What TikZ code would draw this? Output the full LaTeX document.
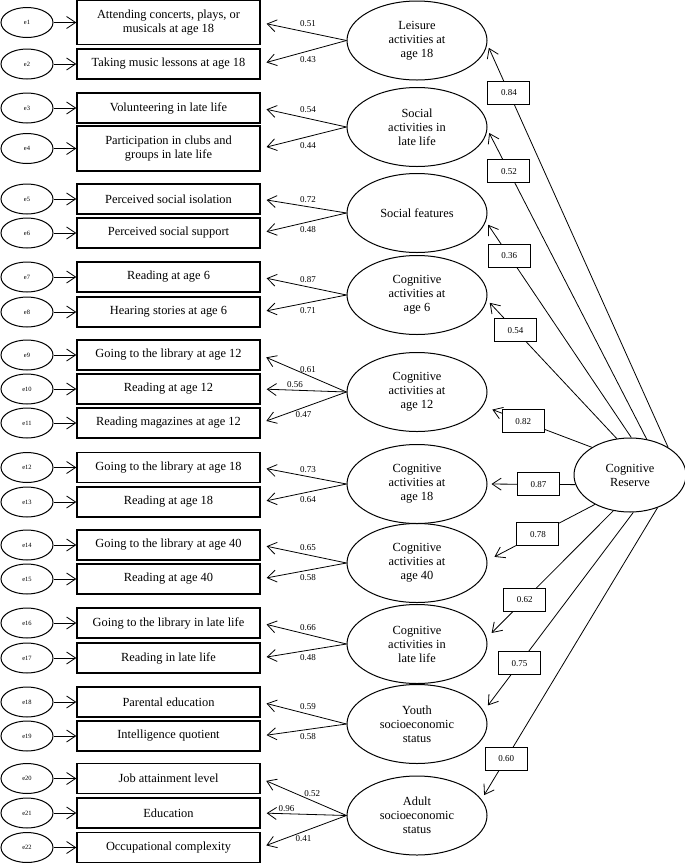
\documentclass[tikz,border=0pt]{standalone}
\usepackage{fontspec}
\setmainfont{Liberation Serif}
\usetikzlibrary{shapes,arrows.meta,positioning}

\tikzset{
  ind/.style={draw, line width=1.4pt, minimum width=183pt, minimum height=30pt, inner sep=2pt, align=center, font=\fontsize{12.4}{14}\selectfont},
  indtwo/.style={ind, minimum height=44pt},
  err/.style={draw, ellipse, line width=1pt, minimum width=52pt, minimum height=30pt, inner sep=0pt, font=\fontsize{6.5}{7}\selectfont},
  lat/.style={draw, ellipse, line width=1pt, minimum width=140pt, minimum height=79pt, inner sep=0pt, align=center, font=\fontsize{12.4}{14}\selectfont},
  lbl/.style={font=\fontsize{9}{10}\selectfont, inner sep=1pt},
  lbox/.style={draw, fill=white, line width=1.1pt, minimum width=42pt, minimum height=23pt, inner sep=0pt, font=\fontsize{9}{10}\selectfont},
  load/.style={->, line width=0.8pt, shorten >=6pt},
  crarrow/.style={->, line width=0.8pt, shorten >=4pt}
}

\begin{document}
\begin{tikzpicture}[x=1pt, y=-1pt, >={Straight Barb[length=9pt,width=12pt]}]
	\useasboundingbox (0,0) rectangle (685,863);

	% observed indicators
	\node[indtwo] (i1) at (168.5,22.5) {Attending concerts, plays, or\\musicals at age 18};
	\node[ind] (i2) at (168.5,64) {Taking music lessons at age 18};
	\node[ind] (i3) at (168.5,108) {Volunteering in late life};
	\node[indtwo, minimum height=45pt] (i4) at (168.5,148.5) {Participation in clubs and\\groups in late life};
	\node[ind] (i5) at (168.5,199) {Perceived social isolation};
	\node[ind] (i6) at (168.5,233) {Perceived social support};
	\node[ind] (i7) at (168.5,277) {Reading at age 6};
	\node[ind] (i8) at (168.5,312) {Hearing stories at age 6};
	\node[ind] (i9) at (168.5,355) {Going to the library at age 12};
	\node[ind] (i10) at (168.5,389) {Reading at age 12};
	\node[ind] (i11) at (168.5,423) {Reading magazines at age 12};
	\node[ind] (i12) at (168.5,467.5) {Going to the library at age 18};
	\node[ind] (i13) at (168.5,502) {Reading at age 18};
	\node[ind] (i14) at (168.5,545) {Going to the library at age 40};
	\node[ind] (i15) at (168.5,579) {Reading at age 40};
	\node[ind] (i16) at (168.5,623) {Going to the library in late life};
	\node[ind] (i17) at (168.5,658) {Reading in late life};
	\node[ind] (i18) at (168.5,702) {Parental education};
	\node[ind] (i19) at (168.5,736) {Intelligence quotient};
	\node[ind] (i20) at (168.5,778.5) {Job attainment level};
	\node[ind] (i21) at (168.5,813) {Education};
	\node[ind] (i22) at (168.5,847.5) {Occupational complexity};

	% error terms
	\node[err] (e1) at (27,22.5) {e1};
	\node[err] (e2) at (27,64) {e2};
	\node[err] (e3) at (27,108) {e3};
	\node[err] (e4) at (27,148.5) {e4};
	\node[err] (e5) at (27,199) {e5};
	\node[err] (e6) at (27,233) {e6};
	\node[err] (e7) at (27,277) {e7};
	\node[err] (e8) at (27,312) {e8};
	\node[err] (e9) at (27,355) {e9};
	\node[err] (e10) at (27,389) {e10};
	\node[err] (e11) at (27,423) {e11};
	\node[err] (e12) at (27,467.5) {e12};
	\node[err] (e13) at (27,502) {e13};
	\node[err] (e14) at (27,545) {e14};
	\node[err] (e15) at (27,579) {e15};
	\node[err] (e16) at (27,623) {e16};
	\node[err] (e17) at (27,658) {e17};
	\node[err] (e18) at (27,702) {e18};
	\node[err] (e19) at (27,736) {e19};
	\node[err] (e20) at (27,778.5) {e20};
	\node[err] (e21) at (27,813) {e21};
	\node[err] (e22) at (27,847.5) {e22};

	% latent factors
	\node[lat] (l1) at (417,40.5) {Leisure\\activities at\\age 18};
	\node[lat] (l2) at (417,127) {Social\\activities in\\late life};
	\node[lat] (l3) at (417,213) {Social features};
	\node[lat] (l4) at (417,295) {Cognitive\\activities at\\age 6};
	\node[lat] (l5) at (417,392) {Cognitive\\activities at\\age 12};
	\node[lat] (l6) at (417,484) {Cognitive\\activities at\\age 18};
	\node[lat] (l7) at (417,563) {Cognitive\\activities at\\age 40};
	\node[lat] (l8) at (417,644) {Cognitive\\activities in\\late life};
	\node[lat] (l9) at (417,724) {Youth\\socioeconomic\\status};
	\node[lat] (l10) at (417,815.5) {Adult\\socioeconomic\\status};
	\node[lat, minimum width=112pt, minimum height=74pt] (cr) at (630,475) {Cognitive\\Reserve};

	% errors to indicators
	\draw[->, line width=0.8pt] (e1) -- (i1);
	\draw[->, line width=0.8pt] (e2) -- (i2);
	\draw[->, line width=0.8pt] (e3) -- (i3);
	\draw[->, line width=0.8pt] (e4) -- (i4);
	\draw[->, line width=0.8pt] (e5) -- (i5);
	\draw[->, line width=0.8pt] (e6) -- (i6);
	\draw[->, line width=0.8pt] (e7) -- (i7);
	\draw[->, line width=0.8pt] (e8) -- (i8);
	\draw[->, line width=0.8pt] (e9) -- (i9);
	\draw[->, line width=0.8pt] (e10) -- (i10);
	\draw[->, line width=0.8pt] (e11) -- (i11);
	\draw[->, line width=0.8pt] (e12) -- (i12);
	\draw[->, line width=0.8pt] (e13) -- (i13);
	\draw[->, line width=0.8pt] (e14) -- (i14);
	\draw[->, line width=0.8pt] (e15) -- (i15);
	\draw[->, line width=0.8pt] (e16) -- (i16);
	\draw[->, line width=0.8pt] (e17) -- (i17);
	\draw[->, line width=0.8pt] (e18) -- (i18);
	\draw[->, line width=0.8pt] (e19) -- (i19);
	\draw[->, line width=0.8pt] (e20) -- (i20);
	\draw[->, line width=0.8pt] (e21) -- (i21);
	\draw[->, line width=0.8pt] (e22) -- (i22);

	% loadings
	\draw[load] (l1.west) -- node[lbl, pos=0.45, above=4pt] {0.51} (i1.east);
	\draw[load] (l1.west) -- node[lbl, pos=0.45, below=4pt] {0.43} (i2.east);
	\draw[load] (l2.west) -- node[lbl, pos=0.45, above=4pt] {0.54} (i3.east);
	\draw[load] (l2.west) -- node[lbl, pos=0.45, below=4pt] {0.44} (i4.east);
	\draw[load] (l3.west) -- node[lbl, pos=0.45, above=3pt] {0.72} (i5.east);
	\draw[load] (l3.west) -- node[lbl, pos=0.45, below=3pt] {0.48} (i6.east);
	\draw[load] (l4.west) -- node[lbl, pos=0.45, above=3pt] {0.87} (i7.east);
	\draw[load] (l4.west) -- node[lbl, pos=0.45, below=3pt] {0.71} (i8.east);
	\draw[load] (l5.west) -- node[lbl, pos=0.45, above=1pt] {0.61} (i9.east);
	\draw[load] (l5.west) -- node[lbl, pos=0.6, above=1pt] {0.56} (i10.east);
	\draw[load] (l5.west) -- node[lbl, pos=0.5, below=3pt] {0.47} (i11.east);
	\draw[load] (l6.west) -- node[lbl, pos=0.45, above=3pt] {0.73} (i12.east);
	\draw[load] (l6.west) -- node[lbl, pos=0.45, below=3pt] {0.64} (i13.east);
	\draw[load] (l7.west) -- node[lbl, pos=0.45, above=3pt] {0.65} (i14.east);
	\draw[load] (l7.west) -- node[lbl, pos=0.45, below=3pt] {0.58} (i15.east);
	\draw[load] (l8.west) -- node[lbl, pos=0.45, above=3pt] {0.66} (i16.east);
	\draw[load] (l8.west) -- node[lbl, pos=0.45, below=3pt] {0.48} (i17.east);
	\draw[load] (l9.west) -- node[lbl, pos=0.45, above=3pt] {0.59} (i18.east);
	\draw[load] (l9.west) -- node[lbl, pos=0.45, below=3pt] {0.58} (i19.east);
	\draw[load] (l10.west) -- node[lbl, pos=0.4, above=3pt] {0.52} (i20.east);
	\draw[load] (l10.west) -- node[lbl, pos=0.7, above=1pt] {0.96} (i21.east);
	\draw[load] (l10.west) -- node[lbl, pos=0.5, below=3pt] {0.41} (i22.east);

	% second order paths
	\draw[crarrow] (cr.36) -- node[lbox, pos=0.88] {0.84} (l1.-3);
	\draw[crarrow] (cr.65) -- node[lbox, pos=0.865] {0.52} (l2.-2);
	\draw[crarrow] (cr.88) -- node[lbox, pos=0.84] {0.36} (l3.-7);
	\draw[crarrow] (cr.110) -- node[lbox, pos=0.78] {0.54} (l4.-4);
	\draw[crarrow, shorten >=10pt] (cr.144) -- node[lbox, pos=0.63] {0.82} (l5.-12);
	\draw[crarrow] (cr.190) -- node[lbox, pos=0.42] {0.87} (l6.0);
	\draw[crarrow, shorten >=8pt] (cr.220) -- node[lbox, pos=0.53] {0.78} (l7.2);
	\draw[crarrow, shorten >=7pt] (cr.245) -- node[lbox, pos=0.70] {0.62} (l8.5);
	\draw[crarrow, shorten >=7pt] (cr.275) -- node[lbox, pos=0.76] {0.75} (l9.11);
	\draw[crarrow, shorten >=5pt] (cr.310) -- node[lbox, pos=0.86] {0.60} (l10.14);
\end{tikzpicture}
\end{document}
